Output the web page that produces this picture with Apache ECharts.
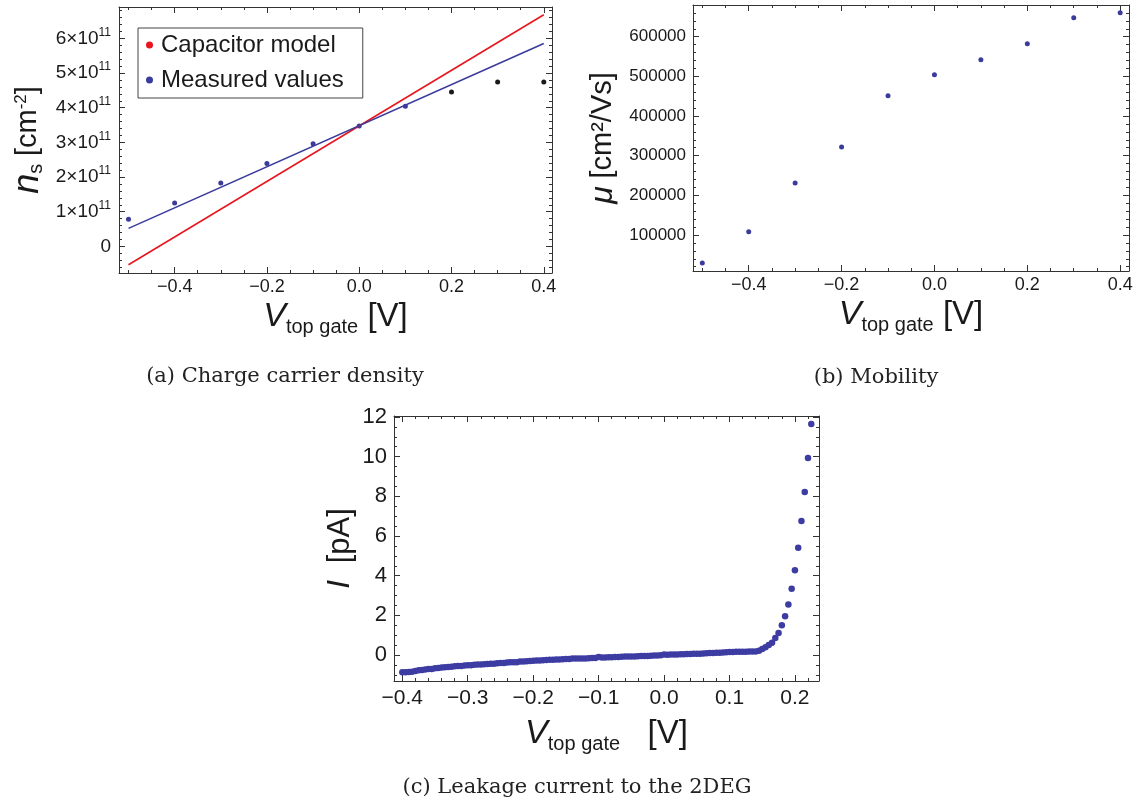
<!DOCTYPE html>
<html>
<head>
<meta charset="utf-8">
<script src="https://cdn.jsdelivr.net/npm/echarts@6/dist/echarts.min.js"></script>
<style>
  html, body { margin: 0; background: #fff; }
  #main { width: 1139px; height: 805px; }
</style>
</head>
<body>
<div id="main"></div>
<script>
// (a) charge carrier density
var densV = [-0.5, -0.4, -0.3, -0.2, -0.1, 0.0, 0.1];
var densN = [0.78e11, 1.25e11, 1.83e11, 2.39e11, 2.96e11, 3.47e11, 4.04e11];
var satV = [0.2, 0.3, 0.4];
var satN = [4.45e11, 4.74e11, 4.74e11];
var fitV = [-0.5, 0.4];
var capModelN = [-0.53e11, 6.68e11];
var fitN = [0.52e11, 5.85e11];

// (b) mobility
var muV = [-0.5, -0.4, -0.3, -0.2, -0.1, 0.0, 0.1, 0.2, 0.3, 0.4];
var muVal = [29400, 108400, 231100, 321800, 451300, 504200, 542000, 582400, 647900, 660500];

// (c) leakage current
var leakV = [
  -0.400, -0.395, -0.390, -0.385, -0.380, -0.375, -0.370, -0.365, -0.360, -0.355,
  -0.350, -0.345, -0.340, -0.335, -0.330, -0.325, -0.320, -0.315, -0.310, -0.305,
  -0.300, -0.295, -0.290, -0.285, -0.280, -0.275, -0.270, -0.265, -0.260, -0.255,
  -0.250, -0.245, -0.240, -0.235, -0.230, -0.225, -0.220, -0.215, -0.210, -0.205,
  -0.200, -0.195, -0.190, -0.185, -0.180, -0.175, -0.170, -0.165, -0.160, -0.155,
  -0.150, -0.145, -0.140, -0.135, -0.130, -0.125, -0.120, -0.115, -0.110, -0.105,
  -0.100, -0.095, -0.090, -0.085, -0.080, -0.075, -0.070, -0.065, -0.060, -0.055,
  -0.050, -0.045, -0.040, -0.035, -0.030, -0.025, -0.020, -0.015, -0.010, -0.005,
  0.000, 0.005, 0.010, 0.015, 0.020, 0.025, 0.030, 0.035, 0.040, 0.045,
  0.050, 0.055, 0.060, 0.065, 0.070, 0.075, 0.080, 0.085, 0.090, 0.095,
  0.100, 0.105, 0.110, 0.115, 0.120, 0.125, 0.130, 0.135, 0.140, 0.145,
  0.150, 0.155, 0.160, 0.165, 0.170, 0.175, 0.180, 0.185, 0.190, 0.195,
  0.200, 0.205, 0.210, 0.215, 0.220, 0.225
];
var leakI = [
  -0.87, -0.87, -0.86, -0.84, -0.80, -0.77, -0.76, -0.73, -0.71, -0.70,
  -0.67, -0.66, -0.63, -0.62, -0.60, -0.59, -0.57, -0.56, -0.55, -0.53,
  -0.52, -0.51, -0.49, -0.48, -0.48, -0.46, -0.45, -0.44, -0.44, -0.42,
  -0.40, -0.40, -0.38, -0.37, -0.36, -0.36, -0.33, -0.33, -0.31, -0.30,
  -0.29, -0.28, -0.28, -0.26, -0.25, -0.24, -0.24, -0.22, -0.22, -0.21,
  -0.20, -0.20, -0.18, -0.18, -0.17, -0.17, -0.18, -0.16, -0.15, -0.15,
  -0.10, -0.13, -0.12, -0.11, -0.11, -0.10, -0.10, -0.09, -0.08, -0.08,
  -0.07, -0.07, -0.06, -0.05, -0.05, -0.05, -0.04, -0.03, -0.03, -0.01,
  0.02, 0.01, 0.02, 0.03, 0.03, 0.04, 0.04, 0.05, 0.05, 0.06,
  0.07, 0.07, 0.08, 0.09, 0.10, 0.10, 0.11, 0.12, 0.13, 0.14,
  0.15, 0.15, 0.16, 0.16, 0.17, 0.17, 0.18, 0.18, 0.18, 0.22,
  0.30, 0.39, 0.50, 0.62, 0.86, 1.11, 1.50, 1.95, 2.55, 3.34,
  4.27, 5.41, 6.76, 8.22, 9.93, 11.65
];

// tick labels
var gateTicks = [-0.4, -0.2, 0.0, 0.2, 0.4];
var densTicks = [0, 1e11, 2e11, 3e11, 4e11, 5e11, 6e11];
var muTicks = [100000, 200000, 300000, 400000, 500000, 600000];
var leakVTicks = [-0.4, -0.3, -0.2, -0.1, 0.0, 0.1, 0.2];
var leakITicks = [0, 2, 4, 6, 8, 10, 12];

var FONT = 'Liberation Sans, Arial, sans-serif';
var INK = '#1a1a1a';
var BLUE = '#3b3b9c';

function pairs(xs, ys) {
  return xs.map(function (x, i) { return [x, ys[i]]; });
}

function signed(v) {
  return (v < 0 ? '\u2212' : '') + Math.abs(v).toFixed(1);
}

// frame with major/minor ticks on all four sides, labels on the first side
function frameAxes(kind, grid, min, max, majors, minorStep, label, name) {
  var minors = [];
  for (var k = Math.ceil(min / minorStep - 1e-9); k * minorStep <= max + 1e-9; k++) {
    var v = +(k * minorStep).toFixed(10);
    var isMajor = majors.some(function (m) { return Math.abs(m - v) < minorStep / 10; });
    if (!isMajor) minors.push(v);
  }
  var pos = kind === 'x' ? ['bottom', 'top'] : ['left', 'right'];
  function axis(p, ticks, len, withLine, withLabel) {
    var a = {
      type: 'value', gridIndex: grid, position: p, min: min, max: max,
      splitLine: { show: false },
      axisLine: { show: withLine, onZero: false, lineStyle: { color: '#333', width: 1 } },
      axisTick: { show: true, inside: true, length: len, customValues: ticks,
                  lineStyle: { color: '#333', width: 1 } },
      axisLabel: { show: false }
    };
    if (withLabel) {
      a.axisLabel = Object.assign({ show: true, customValues: majors, color: INK, fontFamily: FONT }, label);
      if (name) Object.assign(a, name);
    }
    return a;
  }
  return [
    axis(pos[0], majors, 6, true, true),
    axis(pos[0], minors, 3, false, false),
    axis(pos[1], majors, 6, true, false),
    axis(pos[1], minors, 3, false, false)
  ];
}

function xName(text, gap) {
  return {
    name: text, nameLocation: 'middle', nameGap: gap,
    nameTextStyle: {
      color: INK, fontFamily: FONT, fontSize: 33,
      rich: {
        v: { fontSize: 34, fontStyle: 'italic', fontFamily: FONT, color: INK },
        s: { fontSize: 20, padding: [20, 0, 0, 0], fontFamily: FONT, color: INK },
        b: { fontSize: 33, fontFamily: FONT, color: INK }
      }
    }
  };
}

var dot = { opacity: 1 };

var chart = echarts.init(document.getElementById('main'));

var option = {
  backgroundColor: '#fff',
  animation: false,
  grid: [
    { left: 119, top: 7, width: 433, height: 266, outerBoundsMode: 'none' },
    { left: 693, top: 5, width: 436, height: 266, outerBoundsMode: 'none' },
    { left: 394, top: 416, width: 425, height: 265, outerBoundsMode: 'none' }
  ],
  xAxis: [].concat(
    frameAxes('x', 0, -0.5206, 0.4178, gateTicks, 0.05,
      { fontSize: 18, margin: 5, formatter: signed },
      xName('{v|V}{s|top gate} {b|[V]}', 24)),
    frameAxes('x', 1, -0.52, 0.419, gateTicks, 0.05,
      { fontSize: 18, margin: 5, formatter: signed },
      xName('{v|V}{s|top gate} {b|[V]}', 24)),
    frameAxes('x', 2, -0.4127, 0.2368, leakVTicks, 0.02,
      { fontSize: 21, margin: 7, formatter: signed },
      xName('{v|V}{s|top gate}   {b|[V]}', 33))
  ),
  yAxis: [].concat(
    frameAxes('y', 0, -0.767e11, 6.905e11, densTicks, 0.2e11,
      {
        margin: 8,
        formatter: function (v) {
          return v === 0 ? '{n|0}' : '{n|' + Math.round(v / 1e11) + '\u00d710}{p|11}';
        },
        rich: {
          n: { fontSize: 19, fontFamily: FONT, color: INK },
          p: { fontSize: 12, fontFamily: FONT, color: INK, padding: [0, 0, 12, 0] }
        }
      },
      {
        name: '{n|n}{s|s} {b|[cm}{p|-2}{b|]}', nameLocation: 'middle', nameGap: 73,
        nameTextStyle: {
          color: INK, fontFamily: FONT, fontSize: 28,
          rich: {
            n: { fontSize: 36, fontStyle: 'italic', fontFamily: FONT, color: INK },
            s: { fontSize: 20, fontFamily: FONT, color: INK, padding: [16, 0, 0, 0] },
            b: { fontSize: 29, fontFamily: FONT, color: INK },
            p: { fontSize: 17, fontFamily: FONT, color: INK, padding: [0, 0, 14, 0] }
          }
        }
      }),
    frameAxes('y', 1, 9250, 679900, muTicks, 20000,
      { fontSize: 17, margin: 7, formatter: function (v) { return String(v); } },
      {
        name: '{m|\u03bc} {b|[cm\u00b2/Vs]}', nameLocation: 'middle', nameGap: 74,
        nameTextStyle: {
          color: INK, fontFamily: FONT, fontSize: 28,
          rich: {
            m: { fontSize: 32, fontStyle: 'italic', fontFamily: FONT, color: INK },
            b: { fontSize: 29, fontFamily: FONT, color: INK }
          }
        }
      }),
    frameAxes('y', 2, -1.31, 12.05, leakITicks, 0.5,
      { fontSize: 22, margin: 7 },
      {
        name: '{i|I}  {b|[pA]}', nameLocation: 'middle', nameGap: 38,
        nameTextStyle: {
          color: INK, fontFamily: FONT, fontSize: 30,
          rich: {
            i: { fontSize: 32, fontStyle: 'italic', fontFamily: FONT, color: INK },
            b: { fontSize: 31, fontFamily: FONT, color: INK }
          }
        }
      })
  ),
  legend: {
    data: ['Capacitor model', 'Measured values'],
    orient: 'vertical',
    left: 138, top: 28,
    padding: [5, 19, 6, 8],
    itemGap: 11,
    itemWidth: 13, itemHeight: 7,
    icon: 'circle',
    borderColor: '#444', borderWidth: 1,
    backgroundColor: '#fff',
    textStyle: { fontSize: 24, fontFamily: FONT, color: INK }
  },
  series: [
    {
      name: 'Capacitor model', type: 'line', xAxisIndex: 0, yAxisIndex: 0,
      data: pairs(fitV, capModelN), showSymbol: false, color: '#e8161e',
      lineStyle: { color: '#e8161e', width: 1.6 }
    },
    {
      name: 'fit', type: 'line', xAxisIndex: 0, yAxisIndex: 0,
      data: pairs(fitV, fitN), showSymbol: false, color: BLUE,
      lineStyle: { color: BLUE, width: 1.6 }
    },
    {
      name: 'Measured values', type: 'scatter', xAxisIndex: 0, yAxisIndex: 0,
      data: pairs(densV, densN), symbolSize: 5, color: BLUE, itemStyle: dot
    },
    {
      name: 'saturated', type: 'scatter', xAxisIndex: 0, yAxisIndex: 0,
      data: pairs(satV, satN), symbolSize: 5, color: '#1a1a1a', itemStyle: dot
    },
    {
      name: 'mobility', type: 'scatter', xAxisIndex: 4, yAxisIndex: 4,
      data: pairs(muV, muVal), symbolSize: 5, color: BLUE, itemStyle: dot
    },
    {
      name: 'leakage', type: 'scatter', xAxisIndex: 8, yAxisIndex: 8,
      data: pairs(leakV, leakI), symbolSize: 6.5, color: '#3c3ca3', itemStyle: dot
    }
  ],
  graphic: [
    { type: 'text', x: 285, y: 377,
      style: { text: '(a) Charge carrier density', align: 'center', verticalAlign: 'middle',
               font: '21px "DejaVu Serif"', fill: '#222' } },
    { type: 'text', x: 876, y: 378,
      style: { text: '(b) Mobility', align: 'center', verticalAlign: 'middle',
               font: '21px "DejaVu Serif"', fill: '#222' } },
    { type: 'text', x: 577, y: 788,
      style: { text: '(c) Leakage current to the 2DEG', align: 'center', verticalAlign: 'middle',
               font: '21px "DejaVu Serif"', fill: '#222' } }
  ]
};

chart.setOption(option);
</script>
</body>
</html>
